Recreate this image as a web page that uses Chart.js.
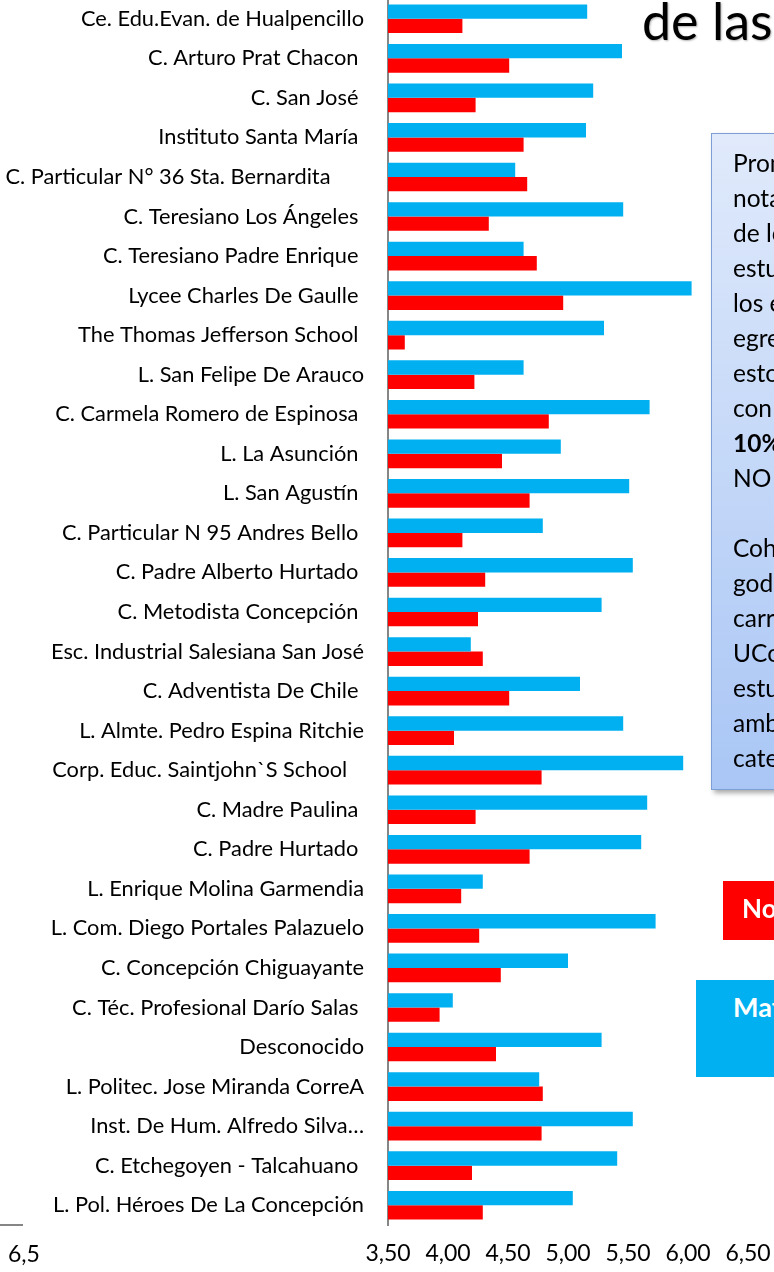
<!DOCTYPE html>
<html>
<head>
<meta charset="utf-8">
<script src="https://cdn.jsdelivr.net/npm/chart.js@4"></script>
<style>
  html, body { margin: 0; padding: 0; background: #fff; overflow: hidden; }
  body { width: 774px; height: 1272px; position: relative; font-family: Lato, sans-serif; }
  #wrap { position: absolute; left: 0; top: -1px; width: 774px; height: 1273px; }
  .titulo { position: absolute; left: 642px; top: -6px; font-size: 52px; line-height: 52px; white-space: nowrap; color: #000; text-shadow: 1px 1px 2px rgba(0,0,0,0.3); }
  .nota { position: absolute; left: 711px; top: 133px; width: 220px; height: 657px; box-sizing: border-box;
          border: 1.5px solid #7d9fd6; background: linear-gradient(#e0eafb, #a9c6f5);
          box-shadow: 3px 3px 5px rgba(0,0,0,0.35); padding: 11px 0 0 21px;
          font-size: 24.5px; line-height: 35px; color: #000; white-space: nowrap; overflow: hidden; }
  .leyenda { position: absolute; color: #fff; font-weight: bold; font-size: 26px; white-space: nowrap; overflow: hidden; }
  .rojo { left: 723px; top: 881px; width: 220px; height: 59px; background: #ff0000; padding: 12px 0 0 19px; box-sizing: border-box; line-height: 30px; }
  .azul { left: 696px; top: 980px; width: 260px; height: 97px; background: #00b0f0; padding: 12px 0 0 37px; box-sizing: border-box; line-height: 30px; font-size: 27px; }
  .resto { position: absolute; left: 0; top: 1224px; width: 23px; height: 2px; background: #868686; }
  .resto-lbl { position: absolute; left: 8px; top: 1239px; font-size: 23px; line-height: 28px; color: #000; }
</style>
</head>
<body>
<div id="wrap"><canvas id="grafico" width="774" height="1273"></canvas></div>

<div class="titulo">de las notas</div>

<div class="nota">
Promedio de las<br>
notas de egreso<br>
de los<br>
estudiantes de<br>
los establecimientos<br>
egresados de<br>
estos colegios<br>
con<br>
<b>10%</b> superior<br>
NO matriculados<br>
<br>
Cohorte de<br>
godos<br>
carreras de la<br>
UCo<br>
estudiantes de<br>
ambas<br>
categorías
</div>

<div class="leyenda rojo">No matriculados</div>
<div class="leyenda azul">Matriculados</div>

<div class="resto"></div>
<div class="resto-lbl">6,5</div>

<script>
// colegios (de arriba hacia abajo), con los espacios finales del original
const colegios = [
  'Ce. Edu.Evan. de Hualpencillo',
  'C. Arturo Prat Chacon ',
  'C. San José ',
  'Instituto Santa María ',
  'C. Particular N° 36 Sta. Bernardita      ',
  'C. Teresiano Los Ángeles ',
  'C. Teresiano Padre Enrique ',
  'Lycee Charles De Gaulle ',
  'The Thomas Jefferson School ',
  'L. San Felipe De Arauco',
  'C. Carmela Romero de Espinosa ',
  'L. La Asunción ',
  'L. San Agustín ',
  'C. Particular N 95 Andres Bello ',
  'C. Padre Alberto Hurtado ',
  'C. Metodista Concepción ',
  'Esc. Industrial Salesiana San José',
  'C. Adventista De Chile ',
  'L. Almte. Pedro Espina Ritchie',
  'Corp. Educ. Saintjohn`S School   ',
  'C. Madre Paulina ',
  'C. Padre Hurtado ',
  'L. Enrique Molina Garmendia',
  'L. Com. Diego Portales Palazuelo',
  'C. Concepción Chiguayante',
  'C. Téc. Profesional Darío Salas ',
  'Desconocido',
  'L. Politec. Jose Miranda CorreA',
  'Inst. De Hum. Alfredo Silva…',
  'C. Etchegoyen - Talcahuano ',
  'L. Pol. Héroes De La Concepción'
];

// promedio matriculados (azul)
const matriculados = [5.16, 5.45, 5.21, 5.15, 4.56, 5.46, 4.63, 6.03, 5.30, 4.63, 5.68, 4.94, 5.51, 4.79, 5.54, 5.28,
  4.19, 5.10, 5.46, 5.96, 5.66, 5.61, 4.29, 5.73, 5.00, 4.04, 5.28, 4.76, 5.54, 5.41, 5.04];

// promedio no matriculados (rojo)
const noMatriculados = [4.12, 4.51, 4.23, 4.63, 4.66, 4.34, 4.74, 4.96, 3.64, 4.22, 4.84, 4.45, 4.68, 4.12, 4.31, 4.25,
  4.29, 4.51, 4.05, 4.78, 4.23, 4.68, 4.11, 4.26, 4.44, 3.93, 4.40, 4.79, 4.78, 4.20, 4.29];

const ejeMin = 3.5;
const ejeMax = 6.5;
const paso = 0.5;

Chart.defaults.font.family = 'Lato, sans-serif';
Chart.defaults.color = '#000';

const ctx = document.getElementById('grafico').getContext('2d');

// sin márgenes extra de las etiquetas, el área del gráfico llega arriba
const sinPadding = (scale) => {
  scale.paddingTop = 0;
  scale.paddingBottom = 0;
  scale.paddingLeft = 0;
  scale.paddingRight = 0;
};

new Chart(ctx, {
  type: 'bar',
  data: {
    labels: colegios,
    datasets: [
      {
        label: 'Matriculados',
        data: matriculados,
        backgroundColor: '#00b0f0',
        borderWidth: 0,
        categoryPercentage: 0.725,
        barPercentage: 1.0,
      },
      {
        label: 'No matriculados',
        data: noMatriculados,
        backgroundColor: '#ff0000',
        borderWidth: 0,
        categoryPercentage: 0.725,
        barPercentage: 1.0,
      }
    ]
  },
  options: {
    indexAxis: 'y',
    responsive: false,
    maintainAspectRatio: false,
    animation: false,
    layout: { autoPadding: false, padding: { left: 0, right: 26, top: 0, bottom: 0 } },
    plugins: {
      legend: { display: false },
      tooltip: { enabled: false },
    },
    scales: {
      x: {
        min: ejeMin,
        max: ejeMax,
        grid: { display: false, drawTicks: false },
        border: { display: false },
        ticks: {
          stepSize: paso,
          padding: 15,
          font: { size: 23 },
          maxRotation: 0,
          callback: (v) => Number(v).toFixed(2).replace('.', ','),
        },
        afterFit: (scale) => { scale.height = 47; sinPadding(scale); },
      },
      y: {
        grid: { display: false, drawTicks: false },
        border: { display: true, color: '#868686', width: 2 },
        ticks: {
          autoSkip: false,
          padding: 24,
          font: { size: 21.8 },
        },
        afterFit: (scale) => { scale.width = 388; sinPadding(scale); },
      }
    }
  }
});
</script>
</body>
</html>
